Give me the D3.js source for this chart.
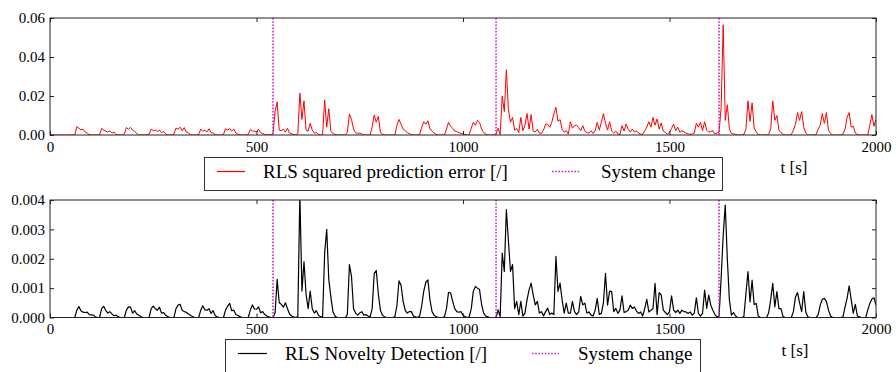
<!DOCTYPE html>
<html><head><meta charset="utf-8">
<script src="https://cdn.jsdelivr.net/npm/d3@7"></script>
<style>
html,body{margin:0;padding:0;background:#fff;}
svg text{font-family:"Liberation Serif","Times New Roman",Times,Tinos,"DejaVu Serif","Noto Serif",serif !important;fill:#000;}
</style></head>
<body><svg id="c" width="896" height="372"></svg>
<script>
// sampling step of the series [s]
const tStep = 5;
// RLS squared prediction error, in units of 1e-3
const sqErrE3 = [
0,0,0,0,0,0,0,0,0,0,0,0,
0,4.3,3.5,2.6,3.0,1.5,1.0,0.2,0,0,0,0,
0,3.4,2.4,2.0,1.5,2.2,1.0,1.5,0.3,0,0,0,
0.5,3.8,3.0,3.9,2.5,1.8,0.8,0,0,0,0,0,
0.5,3.0,2.2,2.5,1.8,2.5,1.2,1.8,0.6,0,0,0,
0.5,3.5,3.0,4.0,2.2,3.8,1.5,1.0,0.2,0,0,0,
0.3,3.0,2.0,2.4,1.6,3.2,1.2,1.0,0.2,0,0,0,
0.3,3.2,2.5,3.3,2.0,3.0,1.0,0.5,0,0,0,0,
0.3,2.8,2.0,2.0,1.5,3.0,1.2,0.8,0.3,0,0.2,0,
1.0,12.0,17.0,2.5,2.2,3.0,1.5,3.4,1.0,0.6,0.2,0,
0.5,21.5,8.0,17.5,2.5,2.0,6.0,2.5,1.0,1.2,0.3,0,
0,18.0,4.0,13.5,2.0,0.8,0.3,0,0,0,0,0,
1.5,10.8,8.0,3.0,1.2,0.8,1.0,0.5,0,0,0,0,
4.0,10.3,6.5,9.5,1.5,0.3,0,0,0,0,0,0,
5.0,8.0,5.5,3.0,2.2,1.2,0.8,0.3,0,0,0,0.3,
4.0,6.8,5.5,7.3,3.0,2.2,1.0,0.3,0,0,0,0,
3.0,6.5,4.5,3.5,2.0,1.8,1.2,0.8,0.5,0.3,0,0.3,
3.5,6.5,5.0,7.5,6.5,3.0,1.2,0.5,0,0,0,0,
0.5,3.5,0.3,20.0,12.0,33.5,13.0,6.5,9.0,2.5,3.4,1.2,
9.0,2.2,5.0,11.0,3.0,10.5,2.0,1.5,3.0,1.0,0.8,2.5,
5.6,5.5,4.0,6.5,10.8,14.2,7.0,7.9,3.0,1.4,2.2,0.5,
6.8,3.5,4.8,5.1,3.8,2.2,4.8,2.0,1.2,1.0,2.2,0.8,
2.2,6.5,2.5,6.5,11.0,6.0,2.5,6.8,2.0,1.0,2.0,0.5,
0.3,4.8,2.0,5.6,3.0,1.5,3.0,1.5,2.2,1.0,0.5,0.3,
2.2,4.0,6.8,4.0,9.0,5.0,8.2,3.0,6.2,2.0,1.3,0.5,
1.3,3.4,5.6,2.2,4.0,1.4,2.2,1.6,1.0,0.5,0.3,0.5,
1.0,6.0,4.0,6.5,2.2,6.8,2.5,1.4,1.8,2.2,0.5,1.0,
1.5,14.0,56.5,7.5,15.5,3.0,0.8,0.5,0.3,0,0,0,
0.3,3.0,17.5,7.0,16.5,3.5,1.5,0.3,0,0,0,0,
0.3,3.0,17.5,7.5,10.0,2.5,1.2,0.3,0,0,0,0.3,
2.5,5.5,11.5,7.5,12.0,4.0,1.0,0,0,0,0,0.3,
3.0,5.0,11.0,6.0,11.5,2.5,0.8,0,0,0,0,0,
0.5,3.0,9.0,11.5,4.0,4.5,1.0,0.3,0,0,0,0,
0,5.0,10.5,4.5,8.0
];
// RLS novelty detection, in units of 1e-4
const noveltyE4 = [
0,0,0,0,0,0,0,0,0,0,0,0,
0,2.5,3.7,2.3,1.8,1.7,1.8,1.0,0.9,0.8,0.2,0,
0,3.0,3.8,2.4,1.5,2.0,1.2,0.6,0.8,0.3,0,0,
0,2.5,3.6,3.5,1.5,2.3,1.2,0.8,0.3,0,0,0,
0,3.0,3.9,3.0,2.5,3.5,1.5,1.7,0.8,0.3,0,0,
0,3.0,4.2,4.5,2.5,2.0,1.8,1.2,0.8,0.3,0,0,
0,2.5,4.0,2.6,2.5,3.0,1.4,2.3,0.7,0.2,0,0,
0,2.5,3.8,4.8,2.3,2.5,1.0,0.7,0.3,0,0,0,
0,2.5,4.3,2.9,2.8,3.6,1.6,2.0,1.0,0.5,0.2,0,
0,1.5,13.0,5.0,4.5,3.5,5.0,3.0,1.2,0.5,0.2,0,
0.3,42,9,19,8,3,9,3,1.5,2.3,0.8,0.3,
0,22,30,13,7,2,0.5,0,0,0,0,0,
1,18,14,3,1.5,0.8,1.5,2.0,0.8,1.0,0.5,0.2,
3,15,16,8,2.5,0.8,0.2,0,0,0,0,0.3,
4,12.5,11,5.5,2.5,1.5,2.0,2.0,0.5,0.2,0,0.5,
4,9,12,12.8,6,2,0.8,0.3,0,0,0,0.2,
3,8.6,8.4,5.5,3.0,2.0,1.8,2.0,0.8,0.3,0,0.2,
3,8.9,10.6,10,9.5,4.5,1.5,0.5,0.2,0,0,0,
0,2.6,0.3,21.9,15.7,36.7,26,15.7,18,3.0,5.5,1.0,
5.5,0.5,1.5,6.0,9.4,11.7,7.7,4.3,5.5,1.5,2.0,0.5,
2.0,3.2,1.0,1.5,1.0,20.8,8.9,11.7,6.0,1.5,4.9,1.5,
1.5,5.5,2.0,1.0,1.8,7.2,4.3,4.9,1.5,1.9,0.8,0.5,
2.5,6.5,1.0,1.4,5.0,15.0,4.2,9.0,8.8,2.0,3.1,1.4,
2.5,7.4,1.7,2.0,2.5,4.2,3.1,3.6,2.2,1.4,1.9,0.5,
3.0,6.2,1.9,2.5,3.0,11.6,1.0,8.5,7.6,2.5,1.7,1.0,
2.0,7.4,2.5,1.7,2.5,1.4,2.5,2.0,1.9,1.4,1.9,0.8,
1.5,6.7,1.4,0.5,1.4,9.3,3.1,7.6,4.2,2.5,1.0,0.2,
0.5,13.3,28,38.3,20,6,0.8,1.7,0.5,0,0,0,
0.3,8.0,15.6,5.3,12.7,4.4,4.8,0.5,0,0,0,0,
1.5,6.0,11.6,3.6,8.8,3.0,3.0,0.3,0,0,0,0,
2.0,7.0,8.5,5.0,2.0,8.8,1.9,0.2,0,0,0,0,
1.0,4.2,6.2,6.5,5.4,2.5,0.5,0,0,0,0,0,
0.2,3.5,6.5,10.8,6.0,1.5,4.5,0.5,0.2,0,0,0,
2.5,4.8,6.3,6.7,4.2
];
const systemChanges = [540, 1080, 1620];
const xTicks = [0, 500, 1000, 1500, 2000];
const yTicksTop = [0, 0.02, 0.04, 0.06];
const yTicksBot = [0, 0.001, 0.002, 0.003, 0.004];
const legendTop = ["RLS squared prediction error [/]", "System change"];
const legendBot = ["RLS Novelty Detection [/]", "System change"];
const xLabel = "t [s]";

const FONT = '"Liberation Serif","Times New Roman",Times,Tinos,"DejaVu Serif","Noto Serif",serif';
const svg = d3.select("#c");
const L = 50, R = 876;
const x = d3.scaleLinear().domain([0, 2000]).range([L, R]);
const MAG = "#cc22cc";

function panel(id, top, bottom, yTicks, yMax, fmt, vals, unit, color, lw) {
  const y = d3.scaleLinear().domain([0, yMax]).range([bottom, top]);
  const g = svg.append("g");
  g.append("clipPath").attr("id", id).append("rect")
    .attr("x", L).attr("y", top).attr("width", R - L).attr("height", bottom - top);
  const pts = vals.map((v, i) => [i * tStep, v * unit]);
  const line = d3.line().x(d => x(d[0])).y(d => y(d[1]));
  g.append("path").datum(pts).attr("d", line).attr("fill", "none")
    .attr("stroke", color).attr("stroke-width", lw).attr("stroke-linejoin", "round")
    .attr("clip-path", `url(#${id})`);
  g.selectAll("line.sc").data(systemChanges).join("line").attr("class", "sc")
    .attr("x1", d => x(d)).attr("x2", d => x(d)).attr("y1", top).attr("y2", bottom)
    .attr("stroke", MAG).attr("stroke-width", 1.6).attr("stroke-dasharray", "1.6,1.6");
  const ax = (gen, tf) => {
    const a = g.append("g").attr("transform", tf).call(gen);
    a.attr("font-family", null);
    a.select(".domain").remove();
    a.selectAll(".tick line").attr("stroke", "#222");
    a.selectAll("text").style("font-size", "15px").style("font-family", FONT).attr("fill", "#000");
    return a;
  };
  ax(d3.axisBottom(x).tickValues(xTicks).tickSizeInner(-4).tickSizeOuter(0).tickPadding(6).tickFormat(d3.format("d")), `translate(0,${bottom})`);
  ax(d3.axisTop(x).tickValues(xTicks).tickSizeInner(-4).tickSizeOuter(0).tickFormat(""), `translate(0,${top})`);
  ax(d3.axisLeft(y).tickValues(yTicks).tickSizeInner(-4).tickSizeOuter(0).tickPadding(5).tickFormat(fmt), `translate(${L},0)`);
  ax(d3.axisRight(y).tickValues(yTicks).tickSizeInner(-4).tickSizeOuter(0).tickFormat(""), `translate(${R},0)`);
  g.append("rect").attr("x", L).attr("y", top).attr("width", R - L).attr("height", bottom - top)
    .attr("fill", "none").attr("stroke", "#222").attr("stroke-width", 1);
  return y;
}

panel("cpTop", 18, 135, yTicksTop, 0.06, d3.format(".2f"), sqErrE3, 1e-3, "#ff0000", 1);
panel("cpBot", 200, 317.5, yTicksBot, 0.004, d3.format(".3f"), noveltyE4, 1e-4, "#000000", 1.2);

function legend(bx, by, bw, bh, l1x, l1w, ly, t1x, tb, l2x, l2w, t2x, color, labels) {
  const g = svg.append("g");
  g.append("rect").attr("x", bx).attr("y", by).attr("width", bw).attr("height", bh)
    .attr("fill", "#fff").attr("stroke", "#333").attr("stroke-width", 1);
  g.append("line").attr("x1", l1x).attr("x2", l1x + l1w).attr("y1", ly).attr("y2", ly)
    .attr("stroke", color).attr("stroke-width", 1.2);
  g.append("text").attr("x", t1x).attr("y", tb).style("font-size", "19px").style("font-family", FONT).text(labels[0]);
  g.append("line").attr("x1", l2x).attr("x2", l2x + l2w).attr("y1", ly).attr("y2", ly)
    .attr("stroke", MAG).attr("stroke-width", 1.6).attr("stroke-dasharray", "1.6,1.6");
  g.append("text").attr("x", t2x).attr("y", tb).style("font-size", "19px").style("font-family", FONT).text(labels[1]);
}
legend(204.5, 157.5, 518, 33, 217, 28, 171.5, 263, 178, 552, 28, 601, "#ff0000", legendTop);
legend(225.5, 339.5, 475, 40, 238, 29, 353.5, 285, 360, 532, 27, 578, "#000000", legendBot);

svg.append("text").attr("x", 794).attr("y", 173).attr("text-anchor", "middle").style("font-size", "17px").style("font-family", FONT).text(xLabel);
svg.append("text").attr("x", 795).attr("y", 356).attr("text-anchor", "middle").style("font-size", "17px").style("font-family", FONT).text(xLabel);
</script></body></html>
